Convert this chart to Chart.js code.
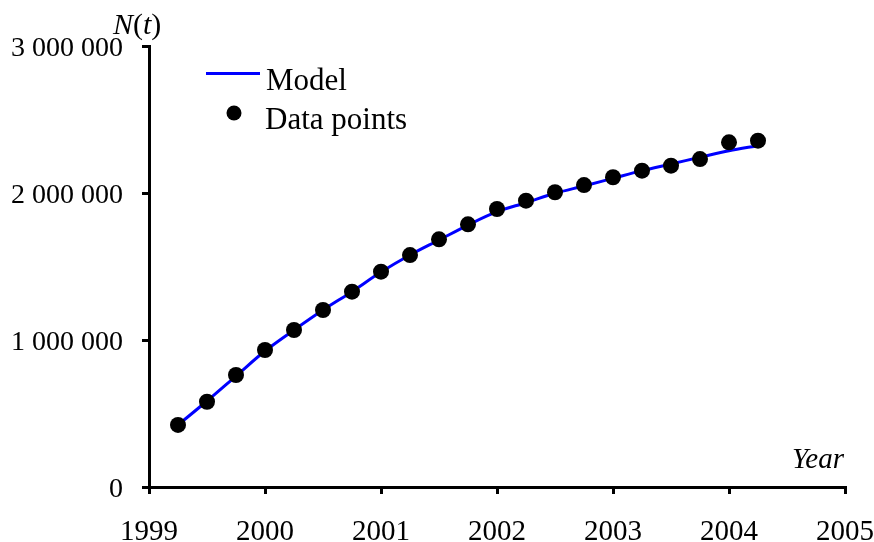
<!DOCTYPE html>
<html>
<head>
<meta charset="utf-8">
<script src="https://cdn.jsdelivr.net/npm/chart.js@4/dist/chart.umd.min.js"></script>
<style>
  html, body { margin: 0; padding: 0; background: #fff; }
  #wrap { width: 874px; height: 542px; }
</style>
</head>
<body>
<div id="wrap"><canvas id="c" width="874" height="542"></canvas></div>
<script>
// Time (years) of each observation, quarterly
const years = [1999.25, 1999.5, 1999.75, 2000, 2000.25, 2000.5, 2000.75, 2001, 2001.25, 2001.5, 2001.75,
               2002, 2002.25, 2002.5, 2002.75, 2003, 2003.25, 2003.5, 2003.75, 2004, 2004.25];
// Data points N(t)
const dataPoints = [422000, 580000, 762000, 932000, 1068000, 1204000, 1329000, 1465000, 1578000, 1685000, 1787000,
                    1891000, 1948000, 2005000, 2054000, 2107000, 2152000, 2186000, 2231000, 2345000, 2356000];
// Model curve N(t)
const modelValues = [422000, 585000, 755000, 925000, 1068000, 1204000, 1329000, 1462000, 1578000, 1680000, 1782000,
                     1873000, 1934000, 1998000, 2048000, 2100000, 2152000, 2197000, 2243000, 2288000, 2322000];
const xTicks = [1999, 2000, 2001, 2002, 2003, 2004, 2005];
const yTicks = [0, 1000000, 2000000, 3000000];
const seriesNames = ['Model', 'Data points'];

const SERIF = '"Liberation Serif", "Times New Roman", serif';

function fmt(v) {
  return String(v).replace(/\B(?=(\d{3})+(?!\d))/g, ' ');
}

const overlay = {
  id: 'overlay',
  afterDraw(chart) {
    const ctx = chart.ctx;
    ctx.save();
    ctx.fillStyle = '#000';
    ctx.textBaseline = 'alphabetic';
    ctx.textAlign = 'left';
    // Legend
    ctx.strokeStyle = '#0000ff';
    ctx.lineWidth = 3;
    ctx.beginPath();
    ctx.moveTo(206, 73.5);
    ctx.lineTo(260, 73.5);
    ctx.stroke();
    ctx.beginPath();
    ctx.arc(234, 113, 7.5, 0, Math.PI * 2);
    ctx.fill();
    ctx.font = '31px ' + SERIF;
    ctx.fillText(seriesNames[0], 266, 90);
    ctx.fillText(seriesNames[1], 265, 129);
    // y-axis title N(t)
    let x = 113;
    const yb = 34;
    const parts = [['N', true], ['(', false], ['t', true], [')', false]];
    for (const [s, it] of parts) {
      ctx.font = (it ? 'italic ' : '') + '30px ' + SERIF;
      ctx.fillText(s, x, yb);
      x += ctx.measureText(s).width;
    }
    // x-axis title
    ctx.font = 'italic 29px ' + SERIF;
    ctx.textAlign = 'right';
    ctx.fillText('Year', 844, 468);
    ctx.restore();
  }
};

new Chart(document.getElementById('c'), {
  type: 'scatter',
  data: {
    datasets: [
      {
        label: seriesNames[1],
        data: years.map((t, i) => ({ x: t, y: dataPoints[i] })),
        showLine: false,
        pointRadius: 8,
        pointBackgroundColor: '#000',
        pointBorderColor: '#000',
        pointBorderWidth: 0,
        order: 0
      },
      {
        label: seriesNames[0],
        data: years.map((t, i) => ({ x: t, y: modelValues[i] })),
        showLine: true,
        borderColor: '#0000ff',
        borderWidth: 3,
        pointRadius: 0,
        cubicInterpolationMode: 'monotone',
        fill: false,
        order: 1
      }
    ]
  },
  options: {
    responsive: false,
    animation: false,
    devicePixelRatio: 1,
    layout: { padding: { left: 0, right: 29, top: 46, bottom: 0 } },
    plugins: { legend: { display: false }, tooltip: { enabled: false }, title: { display: false } },
    scales: {
      x: {
        type: 'linear',
        min: 1999, max: 2005,
        afterBuildTicks: (s) => { s.ticks = xTicks.map(v => ({ value: v })); },
        afterFit: (s) => { s.height = 55; s.paddingLeft = 0; s.paddingRight = 0; },
        border: { display: true, color: '#000', width: 3 },
        grid: { display: true, drawOnChartArea: false, drawTicks: true, tickLength: 7, color: '#000', lineWidth: 3 },
        ticks: {
          color: '#000',
          font: { family: SERIF, size: 29 },
          padding: 21,
          maxRotation: 0,
          autoSkip: false,
          callback: (v) => String(v)
        }
      },
      y: {
        type: 'linear',
        min: 0, max: 3000000,
        afterBuildTicks: (s) => { s.ticks = yTicks.map(v => ({ value: v })); },
        afterFit: (s) => { s.width = 149; s.paddingTop = 0; s.paddingBottom = 0; },
        border: { display: true, color: '#000', width: 3 },
        grid: { display: true, drawOnChartArea: false, drawTicks: true, tickLength: 7, color: '#000', lineWidth: 3 },
        ticks: {
          color: '#000',
          font: { family: SERIF, size: 28 },
          padding: 19,
          labelOffset: 3,
          autoSkip: false,
          callback: (v) => fmt(v)
        }
      }
    }
  },
  plugins: [overlay]
});
</script>
</body>
</html>
